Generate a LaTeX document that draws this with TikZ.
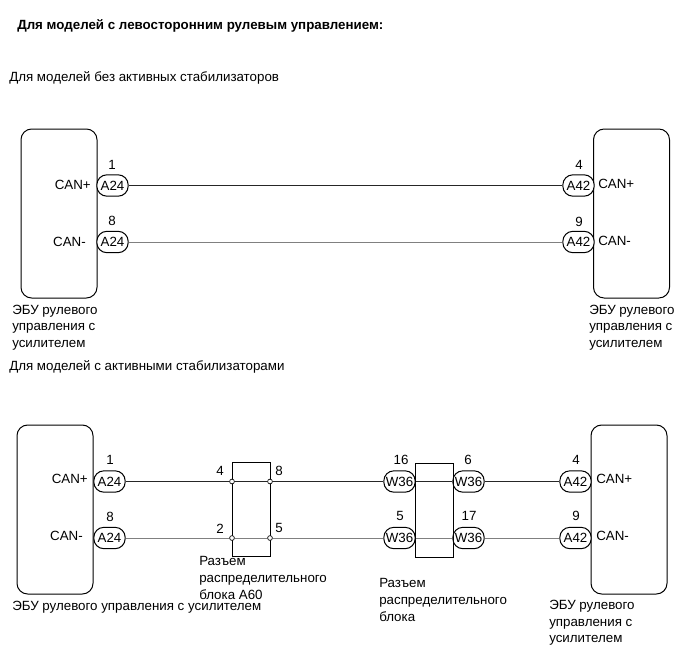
\documentclass[tikz,border=0pt]{standalone}
\usepackage{fontspec}
\setmainfont{Liberation Sans}
\tikzset{
  x=0.75pt,y=-0.75pt,
  ecu/.style={draw,line width=0.75pt,rounded corners=8pt,minimum width=57pt,minimum height=126.75pt,inner sep=0pt},
  conn/.style={draw,line width=0.75pt,rounded corners=7.5pt,fill=white,minimum width=23.5pt,minimum height=16pt,inner sep=0pt,font=\fontsize{10}{10}\selectfont},
  wirea/.style={line width=0.4pt,black!85},
  wireb/.style={line width=0.6pt,black!50},
  joint/.style={draw,line width=0.5pt,circle,fill=white,minimum size=3.6pt,inner sep=0pt},
  blockbox/.style={draw,line width=0.75pt,minimum width=28.5pt,minimum height=71pt,inner sep=0pt},
  txt/.style={font=\fontsize{10}{10}\selectfont,inner sep=0pt,anchor=west,align=left},
  multi/.style={font=\fontsize{10}{12.4}\selectfont,inner sep=0pt,anchor=north west,align=left},
  num/.style={font=\fontsize{10}{10}\selectfont,inner sep=0pt},
}
\begin{document}
\begin{tikzpicture}
\useasboundingbox (0,0) rectangle (691,660);
% headings
\node[txt,font=\fontsize{10}{10}\selectfont\bfseries] (h1) at (17,26) {Для моделей с левосторонним рулевым управлением:};
\node[txt] (h2) at (9,77.5) {Для моделей без активных стабилизаторов};
\node[txt] (h3) at (9,366.5) {Для моделей с активными стабилизаторами};
% top diagram
\node[ecu] (e1) at (59,213.5) {};
\node[ecu] (e2) at (631.5,213.5) {};
\node[conn] (a1) at (112.5,185.5) {A24};
\node[conn] (a2) at (112.5,242) {A24};
\node[conn] (b1) at (578.5,185.5) {A42};
\node[conn] (b2) at (578.5,242) {A42};
\draw[wirea] (a1) -- (b1);
\draw[wireb] (a2) -- (b2);
\node[num] (n1) at (112,165) {1};
\node[num] (n2) at (112,221) {8};
\node[num] (n3) at (579,165) {4};
\node[num] (n4) at (579,222) {9};
\node[txt,anchor=east] (c1) at (91,184.5) {CAN+};
\node[txt,anchor=east] (c2) at (86,241.5) {CAN-};
\node[txt] (c3) at (598,183.5) {CAN+};
\node[txt] (c4) at (598,240.5) {CAN-};
\node[multi] (l1) at (12,304.5) {ЭБУ рулевого\\управления с\\усилителем};
\node[multi] (l2) at (589,304.5) {ЭБУ рулевого\\управления с\\усилителем};
% bottom diagram
\node[ecu] (e3) at (55,509.5) {};
\node[ecu] (e4) at (629,509.5) {};
\node[blockbox] (k1) at (251,509.5) {};
\node[conn] (d1) at (109.5,481.5) {A24};
\node[conn] (d2) at (109.5,538) {A24};
\node[conn] (f1) at (399.5,481.5) {W36};
\node[conn] (f2) at (399.5,538) {W36};
\node[conn] (g1) at (468.5,481.5) {W36};
\node[conn] (g2) at (468.5,538) {W36};
\node[conn] (m1) at (575.5,481.5) {A42};
\node[conn] (m2) at (575.5,538) {A42};
\node[joint] (j1) at (232,481.5) {};
\node[joint] (j2) at (270,481.5) {};
\node[joint] (j3) at (232,538) {};
\node[joint] (j4) at (270,538) {};
\draw[wirea] (d1) -- (j1);
\draw[wirea] (j1) -- (j2);
\draw[wirea] (j2) -- (f1);
\draw[wirea] (g1) -- (m1);
\draw[wireb] (d2) -- (j3);
\draw[wireb] (j3) -- (j4);
\draw[wireb] (j4) -- (f2);
\draw[wireb] (g2) -- (m2);
\node[blockbox,minimum height=70.5pt] (k2) at (434,510) {};
\draw[wirea] (f1) -- (g1);
\draw[wireb] (f2) -- (g2);
\node[num] (p1) at (110,460) {1};
\node[num] (p2) at (110,517) {8};
\node[num] (p3) at (220,471) {4};
\node[num] (p4) at (279,471) {8};
\node[num] (p5) at (220,529) {2};
\node[num] (p6) at (279,528) {5};
\node[num] (p7) at (401,460) {16};
\node[num] (p8) at (468,460) {6};
\node[num] (p9) at (400,516) {5};
\node[num] (p10) at (469,516) {17};
\node[num] (p11) at (576,460) {4};
\node[num] (p12) at (576,516) {9};
\node[txt,anchor=east] (q1) at (88,479) {CAN+};
\node[txt,anchor=east] (q2) at (83,536) {CAN-};
\node[txt] (q3) at (596,479) {CAN+};
\node[txt] (q4) at (596,536) {CAN-};
\node[multi] (r1) at (199,556.5) {Разъем\\распределительного\\блока A60};
\node[txt] (r2) at (12,607.5) {ЭБУ рулевого управления с усилителем};
\node[multi] (r3) at (379,578.5) {Разъем\\распределительного\\блока};
\node[multi] (r4) at (549,600) {ЭБУ рулевого\\управления с\\усилителем};
\end{tikzpicture}
\end{document}
